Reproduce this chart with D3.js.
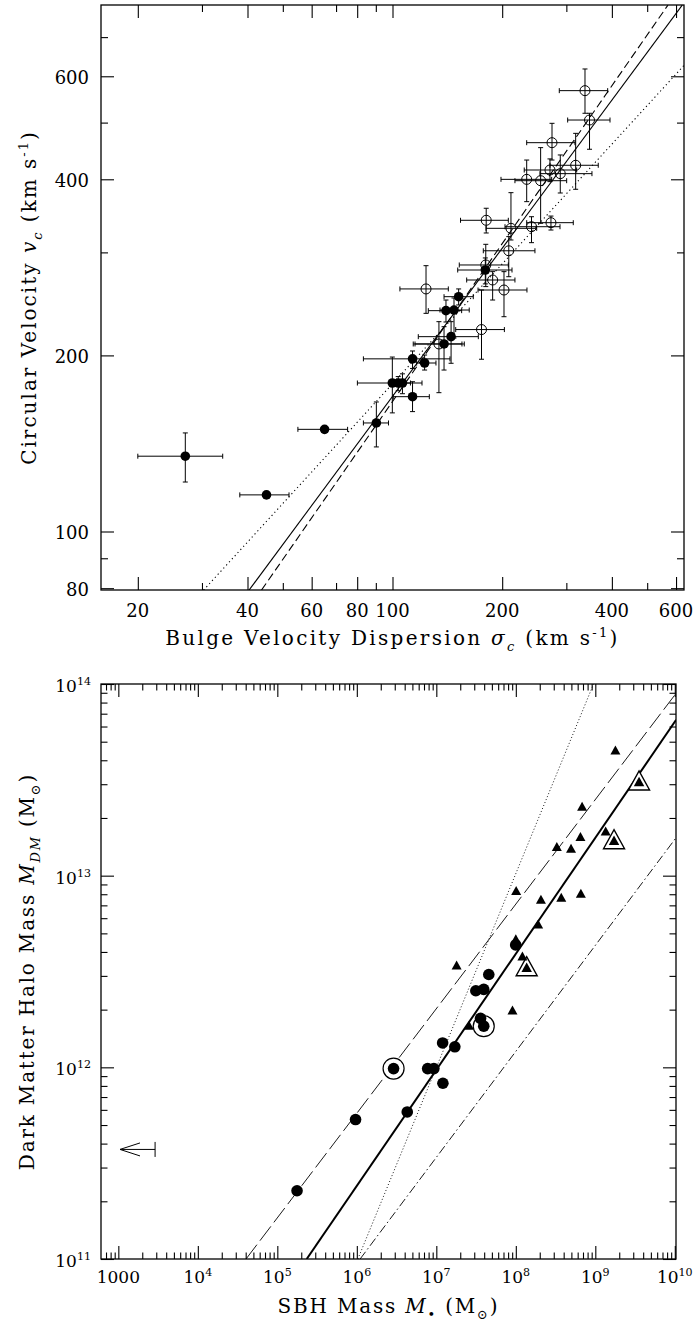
<!DOCTYPE html>
<html>
<head>
<meta charset="utf-8">
<script src="https://d3js.org/d3.v7.min.js"></script>
<style>
  body { margin: 0; background: #fff; }
  svg text { font-family: "DejaVu Serif", serif; fill: #000; }
</style>
</head>
<body>
<svg id="chart" width="697" height="1324"></svg>
<script>
// ---------- top panel: v_c vs sigma_c ----------
const topXMajor = [20, 40, 60, 80, 100, 200, 400, 600];
const topXMinor = [30, 50, 70, 90, 300, 500];
const topYMajor = [80, 100, 200, 400, 600];
const topYMinor = [90, 300, 500, 700];

// sigma, v, sigma lo, sigma hi, v lo, v hi
const bulgeFilled = [
  [27.0, 134.5, 20.0, 34.2, 121.5, 147.4],
  [45.1, 115.5, 38.1, 52.0, null, null],
  [65.1, 149.5, 55.0, 75.3, null, null],
  [90.3, 153.3, 83.2, 97.5, 139.5, 166.5],
  [99.9, 179.4, 80.1, 120.5, 159.5, 198.7],
  [103.7, 179.4, 100.0, 108.0, 174.0, 184.0],
  [106.5, 179.4, 101.0, 112.0, 172.0, 186.0],
  [113.5, 170.0, 100.5, 126.2, 160.3, 180.3],
  [113.5, 197.3, 83.2, 143.8, 190.0, 203.5],
  [122.5, 194.1, 116.5, 131.6, 188.8, 200.3],
  [138.5, 209.2, 114.0, 157.4, 188.8, 223.9],
  [144.8, 215.3, 117.7, 172.0, 193.9, 228.4],
  [140.2, 238.5, 125.4, 154.8, 228.1, 248.7],
  [147.5, 239.1, 135.0, 162.4, 214.2, 250.7],
  [151.9, 252.0, 138.5, 166.6, 243.9, 259.8],
  [179.8, 279.9, 151.0, 212.8, 265.0, 293.5]
];

const bulgeOpen = [
  [337.5, 567.0, 286.9, 389.5, 518.7, 617.5],
  [347.3, 505.1, 302.5, 395.3, 450.2, 518.7],
  [274.0, 462.0, 233.5, 316.8, 431.5, 498.6],
  [318.2, 422.7, 270.5, 367.0, 384.6, 479.3],
  [270.5, 414.9, 229.9, 320.2, 396.3, 433.4],
  [288.7, 409.0, 253.9, 352.7, 379.0, 440.2],
  [233.5, 399.9, 198.5, 273.4, 366.3, 431.5],
  [255.0, 397.8, 216.8, 300.6, 336.4, 453.1],
  [180.8, 340.4, 153.7, 207.9, 323.8, 356.9],
  [211.4, 329.8, 180.6, 248.7, 315.0, 379.5],
  [240.7, 331.9, 203.6, 288.2, 311.7, 345.2],
  [272.2, 337.2, 233.5, 313.4, 327.6, 346.1],
  [208.5, 301.9, 177.5, 246.0, 272.6, 319.2],
  [180.3, 285.5, 152.5, 207.9, 262.2, 309.7],
  [188.3, 269.1, 159.8, 216.8, 248.7, 278.1],
  [202.3, 258.7, 171.7, 233.9, 232.9, 278.1],
  [123.6, 259.8, 104.8, 142.3, 236.0, 284.7],
  [175.5, 221.4, 149.1, 202.8, 197.0, 258.7],
  [134.1, 209.2, 115.3, 155.1, 172.7, 228.4]
];

const fitSolid = [[40.4, 79.4], [624, 794]];
const fitDashed = [[43.7, 79.4], [570, 794]];
const fitDotted = [[30.3, 79.4], [632, 627]];

// ---------- bottom panel: M_DM vs M_BH ----------
const bhXExp = [3, 4, 5, 6, 7, 8, 9, 10];
const bhYExp = [11, 12, 13, 14];

const bhCircles = [
  [4.57e7, 3.05e12], [3.14e7, 2.51e12], [3.95e7, 2.55e12], [3.60e7, 1.80e12],
  [3.95e7, 1.64e12], [1.20e7, 1.34e12], [1.71e7, 1.28e12], [2.90e6, 9.85e11],
  [7.78e6, 9.85e11], [9.31e6, 9.85e11], [1.21e7, 8.26e11], [4.31e6, 5.85e11],
  [9.64e5, 5.34e11], [1.77e5, 2.27e11], [9.96e7, 4.35e12]
];
const bhRinged = [[3.95e7, 1.64e12], [2.90e6, 9.85e11]];

const bhTriangles = [
  [1.79e9, 4.53e13], [6.82e8, 2.30e13], [6.50e8, 1.60e13], [3.28e8, 1.42e13],
  [4.95e8, 1.39e13], [1.35e9, 1.71e13], [1.01e8, 8.36e12], [2.07e8, 7.54e12],
  [3.73e8, 7.71e12], [6.58e8, 8.09e12], [1.91e8, 5.60e12], [1.00e8, 4.69e12],
  [1.21e8, 3.81e12], [1.80e7, 3.42e12], [9.08e7, 1.99e12], [2.58e7, 1.66e12]
];
const bhBoxed = [[3.55e9, 3.10e13], [1.72e9, 1.53e13], [1.37e8, 3.33e12]];

// M limit, M_DM, arrow tip
const bhUpperLimit = [[2.9e3, 3.73e11, 1.05e3]];

const relSolid = [[2.34e5, 1e11], [1.04e10, 6.5e13]];
const relDashed = [[4.04e4, 1e11], [1.04e10, 8.95e13]];
const relDotted = [[1.03e6, 1e11], [9.5e8, 1e14]];
const relDashDot = [[1.1e6, 1e11], [1.04e10, 1.58e13]];

const svg = d3.select("#chart");

// rich text: parts are [text, mode] where mode has i=italic, b=subscript, p=superscript
function rich(sel, parts, size) {
  let off = 0;
  parts.forEach(([t, mode = ""]) => {
    const target = mode.includes("b") ? size * 0.3 : mode.includes("p") ? -size * 0.42 : 0;
    const ts = sel.append("tspan").attr("dy", target - off).text(t);
    off = target;
    if (mode.includes("i")) ts.attr("font-style", "italic");
    if (mode.includes("b") || mode.includes("p")) ts.attr("font-size", size * 0.65);
  });
}

function frame(g, x, y, xMaj, xMin, yMaj, yMin, majLen, minLen) {
  const [x0, x1] = x.range();
  const [y0, y1] = y.range();
  const noText = () => "";
  const sets = [
    [d3.axisBottom(x), `translate(0,${y0})`, xMaj, xMin],
    [d3.axisTop(x), `translate(0,${y1})`, xMaj, xMin],
    [d3.axisLeft(y), `translate(${x0},0)`, yMaj, yMin],
    [d3.axisRight(y), `translate(${x1},0)`, yMaj, yMin]
  ];
  sets.forEach(([ax, tr, maj, min]) => {
    g.append("g").attr("transform", tr)
      .call(ax.tickValues(maj).tickSize(-majLen).tickFormat(noText))
      .call(s => s.select(".domain").remove());
    g.append("g").attr("transform", tr)
      .call(ax.tickValues(min).tickSize(-minLen).tickFormat(noText))
      .call(s => s.select(".domain").remove());
  });
  g.selectAll(".tick line").attr("stroke", "#000").attr("stroke-width", 1.1);
  g.append("rect")
    .attr("x", x0).attr("y", y1)
    .attr("width", x1 - x0).attr("height", y0 - y1)
    .attr("fill", "none").attr("stroke", "#000").attr("stroke-width", 1.3);
}

function clipFor(id, x, y) {
  const [x0, x1] = x.range();
  const [y0, y1] = y.range();
  svg.append("clipPath").attr("id", id).append("rect")
    .attr("x", x0).attr("y", y1).attr("width", x1 - x0).attr("height", y0 - y1);
}

// ================= TOP PANEL =================
const topX = d3.scaleLog().domain([10 ** 1.2, 10 ** 2.8]).range([101, 684]);
const topY = d3.scaleLog().domain([10 ** 1.9, 10 ** 2.9]).range([590, 5]);
clipFor("clipTop", topX, topY);

const topG = svg.append("g");
const topLine = d3.line().x(d => topX(d[0])).y(d => topY(d[1]));
const topPlot = topG.append("g").attr("clip-path", "url(#clipTop)");

topPlot.append("path").attr("d", topLine(fitDotted))
  .attr("fill", "none").attr("stroke", "#000").attr("stroke-width", 1.1).attr("stroke-dasharray", "1.2,3");
topPlot.append("path").attr("d", topLine(fitDashed))
  .attr("fill", "none").attr("stroke", "#000").attr("stroke-width", 1.1).attr("stroke-dasharray", "8,4");
topPlot.append("path").attr("d", topLine(fitSolid))
  .attr("fill", "none").attr("stroke", "#000").attr("stroke-width", 1.1);

function errBars(g, data) {
  const cap = 2.5;
  data.forEach(d => {
    const [s, v, sl, sh, vl, vh] = d;
    const cx = topX(s), cy = topY(v);
    if (sl != null) {
      g.append("line").attr("x1", topX(sl)).attr("x2", topX(sh)).attr("y1", cy).attr("y2", cy);
      [sl, sh].forEach(e => g.append("line").attr("x1", topX(e)).attr("x2", topX(e)).attr("y1", cy - cap).attr("y2", cy + cap));
    }
    if (vl != null) {
      g.append("line").attr("x1", cx).attr("x2", cx).attr("y1", topY(vl)).attr("y2", topY(vh));
      [vl, vh].forEach(e => g.append("line").attr("x1", cx - cap).attr("x2", cx + cap).attr("y1", topY(e)).attr("y2", topY(e)));
    }
  });
  g.selectAll("line").attr("stroke", "#000").attr("stroke-width", 1);
}
errBars(topPlot.append("g"), bulgeOpen);
errBars(topPlot.append("g"), bulgeFilled);

topPlot.append("g").selectAll("circle").data(bulgeOpen).join("circle")
  .attr("cx", d => topX(d[0])).attr("cy", d => topY(d[1])).attr("r", 5)
  .attr("fill", "none").attr("stroke", "#000").attr("stroke-width", 1);
topPlot.append("g").selectAll("circle").data(bulgeFilled).join("circle")
  .attr("cx", d => topX(d[0])).attr("cy", d => topY(d[1])).attr("r", 4.8)
  .attr("fill", "#000");

frame(topG.append("g"), topX, topY, topXMajor, topXMinor, topYMajor, topYMinor, 13, 7);

topG.append("g").selectAll("text").data(topXMajor).join("text")
  .attr("x", d => topX(d)).attr("y", 617).attr("text-anchor", "middle")
  .attr("font-size", 18).text(d => d);
topG.append("g").selectAll("text").data(topYMajor).join("text")
  .attr("x", 89).attr("y", d => topY(d) + 7.5).attr("text-anchor", "end")
  .attr("font-size", 18).text(d => d);

rich(topG.append("text").attr("x", 392.5).attr("y", 645).attr("text-anchor", "middle")
  .attr("font-size", 20).attr("letter-spacing", 2.3),
  [["Bulge Velocity Dispersion "], ["σ", "i"], ["c", "ib"], [" (km s"], ["-1", "p"], [")"]], 20);
rich(topG.append("text").attr("transform", "translate(36,297.5) rotate(-90)").attr("text-anchor", "middle")
  .attr("font-size", 20).attr("letter-spacing", 2),
  [["Circular Velocity "], ["v", "i"], ["c", "ib"], [" (km s"], ["-1", "p"], [")"]], 20);

// ================= BOTTOM PANEL =================
const botX = d3.scaleLog().domain([10 ** 2.782, 10 ** 10.015]).range([101, 676]);
const botY = d3.scaleLog().domain([1e11, 1e14]).range([1259, 684]);
clipFor("clipBot", botX, botY);

const botG = svg.append("g");
const botLine = d3.line().x(d => botX(d[0])).y(d => botY(d[1]));
const botPlot = botG.append("g").attr("clip-path", "url(#clipBot)");

botPlot.append("path").attr("d", botLine(relDotted))
  .attr("fill", "none").attr("stroke", "#000").attr("stroke-width", 0.9).attr("stroke-dasharray", "1,2.2");
botPlot.append("path").attr("d", botLine(relDashDot))
  .attr("fill", "none").attr("stroke", "#000").attr("stroke-width", 0.9).attr("stroke-dasharray", "9,3,1.5,3");
botPlot.append("path").attr("d", botLine(relDashed))
  .attr("fill", "none").attr("stroke", "#000").attr("stroke-width", 0.9).attr("stroke-dasharray", "18,5");
botPlot.append("path").attr("d", botLine(relSolid))
  .attr("fill", "none").attr("stroke", "#000").attr("stroke-width", 2);

const tri = (cx, cy, w, h) => `M${cx - w / 2},${cy + h / 2}L${cx + w / 2},${cy + h / 2}L${cx},${cy - h / 2}Z`;

botPlot.append("g").selectAll("path").data(bhBoxed).join("path")
  .attr("d", d => tri(botX(d[0]), botY(d[1]) - 1, 21, 19))
  .attr("fill", "#fff").attr("stroke", "#000").attr("stroke-width", 1.4);
botPlot.append("g").selectAll("path").data(bhBoxed).join("path")
  .attr("d", d => tri(botX(d[0]), botY(d[1]), 10.5, 9.5))
  .attr("fill", "#000");
botPlot.append("g").selectAll("path").data(bhTriangles).join("path")
  .attr("d", d => tri(botX(d[0]), botY(d[1]), 10, 9))
  .attr("fill", "#000");

botPlot.append("g").selectAll("circle").data(bhRinged).join("circle")
  .attr("cx", d => botX(d[0])).attr("cy", d => botY(d[1])).attr("r", 10.5)
  .attr("fill", "#fff").attr("stroke", "#000").attr("stroke-width", 1.2);
botPlot.append("g").selectAll("circle").data(bhCircles).join("circle")
  .attr("cx", d => botX(d[0])).attr("cy", d => botY(d[1])).attr("r", 5.8)
  .attr("fill", "#000");

const lim = botG.append("g").attr("stroke", "#000").attr("stroke-width", 1).attr("fill", "none");
bhUpperLimit.forEach(([m, mdm, tip]) => {
  const x = botX(m), y = botY(mdm), xt = botX(tip);
  lim.append("line").attr("x1", xt).attr("x2", x).attr("y1", y).attr("y2", y);
  lim.append("line").attr("x1", x).attr("x2", x).attr("y1", y - 7.5).attr("y2", y + 7.5);
  lim.append("path").attr("d", `M${xt + 20},${y - 6.5}L${xt},${y}L${xt + 20},${y + 6.5}`);
});

const pow10 = e => 10 ** e;
const minorOf = exps => exps.slice(0, -1).flatMap(e => d3.range(2, 10).map(k => k * 10 ** e));
frame(botG.append("g"), botX, botY,
  bhXExp.map(pow10), [700, 800, 900].concat(minorOf(bhXExp)),
  bhYExp.map(pow10), minorOf(bhYExp), 13, 6.5);

bhXExp.forEach(e => {
  const t = botG.append("text").attr("x", botX(10 ** e)).attr("y", 1283)
    .attr("text-anchor", "middle").attr("font-size", 17);
  if (e === 3) t.text("1000");
  else rich(t, [["10"], [String(e), "p"]], 17);
});
bhYExp.forEach(e => {
  const t = botG.append("text").attr("x", 91).attr("y", botY(10 ** e) + 8)
    .attr("text-anchor", "end").attr("font-size", 17);
  rich(t, [["10"], [String(e), "p"]], 17);
});

rich(botG.append("text").attr("x", 388.5).attr("y", 1313).attr("text-anchor", "middle")
  .attr("font-size", 20).attr("letter-spacing", 1.8),
  [["SBH Mass "], ["M", "i"], ["•", "b"], [" (M"], ["⊙", "b"], [")"]], 20);
rich(botG.append("text").attr("transform", "translate(34,971.5) rotate(-90)").attr("text-anchor", "middle")
  .attr("font-size", 20).attr("letter-spacing", 1.8),
  [["Dark Matter Halo Mass "], ["M", "i"], ["DM", "ib"], ["  (M"], ["⊙", "b"], [")"]], 20);
</script>
</body>
</html>
